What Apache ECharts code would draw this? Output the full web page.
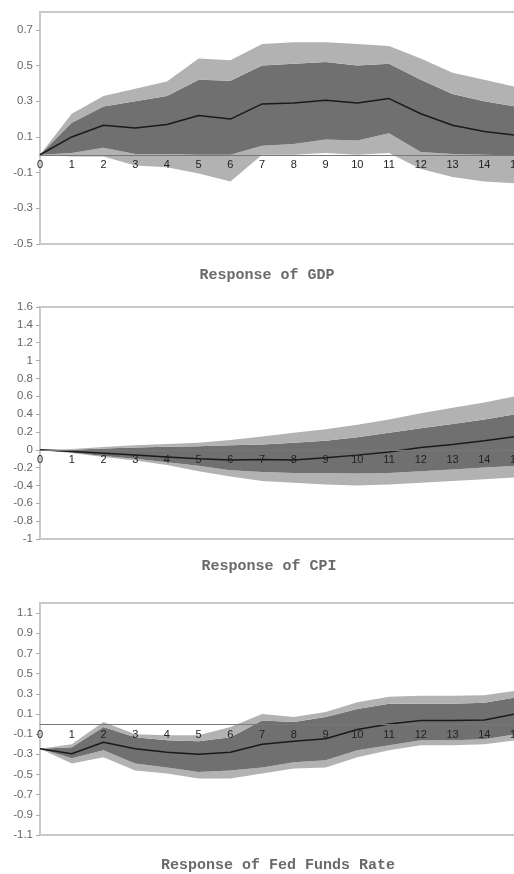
<!DOCTYPE html>
<html><head><meta charset="utf-8">
<script src="https://cdn.jsdelivr.net/npm/echarts@6/dist/echarts.min.js"></script>
<style>html,body{margin:0;padding:0;background:#fff;overflow:hidden}#c{width:514px;height:874px}</style>
</head><body><div id="c"></div>
<script>
const periods = ['0','1','2','3','4','5','6','7','8','9','10','11','12','13','14','15'];

const titles = ['Response of GDP', 'Response of CPI', 'Response of Fed Funds Rate'];

const gdpMedian    = [0, 0.10, 0.165, 0.15, 0.17, 0.22, 0.20, 0.285, 0.29, 0.305, 0.29, 0.315, 0.23, 0.165, 0.13, 0.11];
const gdpOuterHigh = [0, 0.23, 0.33, 0.37, 0.41, 0.54, 0.53, 0.62, 0.63, 0.63, 0.62, 0.61, 0.54, 0.46, 0.42, 0.38];
const gdpInnerHigh = [0, 0.18, 0.27, 0.30, 0.33, 0.42, 0.415, 0.50, 0.51, 0.52, 0.50, 0.51, 0.42, 0.34, 0.30, 0.27];
const gdpInnerLow  = [0, 0.01, 0.04, 0.005, 0.005, 0.0, 0.0, 0.05, 0.06, 0.085, 0.08, 0.12, 0.015, 0.005, 0.0, -0.005];
const gdpOuterLow  = [0, -0.01, -0.01, -0.06, -0.07, -0.105, -0.15, 0.0, 0.0, 0.01, 0.0, 0.01, -0.08, -0.125, -0.15, -0.16];

const cpiMedian    = [0, -0.02, -0.04, -0.06, -0.08, -0.10, -0.115, -0.11, -0.115, -0.09, -0.06, -0.025, 0.025, 0.06, 0.10, 0.15];
const cpiOuterHigh = [0, 0.01, 0.03, 0.05, 0.065, 0.08, 0.11, 0.15, 0.19, 0.23, 0.28, 0.34, 0.41, 0.47, 0.53, 0.60];
const cpiInnerHigh = [0, 0.0, 0.015, 0.025, 0.035, 0.04, 0.05, 0.06, 0.08, 0.10, 0.14, 0.19, 0.24, 0.29, 0.34, 0.40];
const cpiInnerLow  = [0, -0.03, -0.07, -0.10, -0.14, -0.18, -0.23, -0.25, -0.26, -0.26, -0.265, -0.26, -0.24, -0.22, -0.20, -0.18];
const cpiOuterLow  = [0, -0.035, -0.08, -0.12, -0.17, -0.24, -0.30, -0.35, -0.37, -0.39, -0.40, -0.39, -0.37, -0.35, -0.33, -0.31];

const ffrMedian    = [-0.245, -0.295, -0.18, -0.245, -0.28, -0.30, -0.28, -0.20, -0.17, -0.145, -0.055, 0.0, 0.035, 0.035, 0.04, 0.10];
const ffrOuterHigh = [-0.245, -0.20, 0.02, -0.10, -0.11, -0.11, -0.03, 0.10, 0.07, 0.12, 0.215, 0.27, 0.28, 0.28, 0.285, 0.33];
const ffrInnerHigh = [-0.245, -0.23, -0.03, -0.13, -0.16, -0.17, -0.13, 0.035, 0.02, 0.07, 0.15, 0.20, 0.20, 0.20, 0.21, 0.265];
const ffrInnerLow  = [-0.245, -0.34, -0.26, -0.39, -0.43, -0.475, -0.46, -0.43, -0.38, -0.36, -0.26, -0.21, -0.16, -0.16, -0.15, -0.10];
const ffrOuterLow  = [-0.245, -0.39, -0.33, -0.46, -0.49, -0.54, -0.54, -0.49, -0.44, -0.43, -0.33, -0.26, -0.21, -0.21, -0.20, -0.16];

const yMin = [-0.5, -1, -1.1];
const yMax = [0.8, 1.6, 1.2];

const panels = [
  {med: gdpMedian, oh: gdpOuterHigh, ih: gdpInnerHigh, il: gdpInnerLow, ol: gdpOuterLow},
  {med: cpiMedian, oh: cpiOuterHigh, ih: cpiInnerHigh, il: cpiInnerLow, ol: cpiOuterLow},
  {med: ffrMedian, oh: ffrOuterHigh, ih: ffrInnerHigh, il: ffrInnerLow, ol: ffrOuterLow}
];

const LIGHT = '#b2b2b2', DARK = '#707070';
const GRID_H = 232;
const gridTops = [12, 307, 603];
const titleY = [275, 566, 865];
const titleX = [267, 269, 278];

const diff = (a, b) => a.map((v, i) => +(v - b[i]).toFixed(4));

const grids = [], xAxes = [], yAxes = [], series = [], graphics = [];
panels.forEach((p, k) => {
  grids.push({left: 40, top: gridTops[k], width: 476, height: GRID_H, show: true,
    outerBoundsMode: 'none', containLabel: false,
    borderColor: '#c8c8c8', borderWidth: 2, backgroundColor: 'transparent'});
  const zeroOffset = -GRID_H * (0 - yMin[k]) / (yMax[k] - yMin[k]);
  xAxes.push({type: 'category', gridIndex: k, data: periods, boundaryGap: false, z: 10,
    position: 'bottom', offset: zeroOffset,
    axisLine: {show: true, onZero: false, lineStyle: {color: '#777', width: 1}},
    axisTick: {show: false},
    axisLabel: {color: '#222', fontSize: 11, fontFamily: 'Liberation Sans, Arial', margin: 5, interval: 0},
    splitLine: {show: false}});
  yAxes.push({type: 'value', gridIndex: k, min: yMin[k], max: yMax[k], interval: 0.2,
    axisLine: {show: false},
    axisTick: {show: true, length: 4, lineStyle: {color: '#aaa'}},
    axisLabel: {color: '#666', fontSize: 11.5, fontFamily: 'Liberation Sans, Arial', margin: 7,
      showMaxLabel: k === 1 ? true : false},
    splitLine: {show: false}});
  const st = 'band' + k;
  const common = {type: 'line', xAxisIndex: k, yAxisIndex: k, stack: st, stackStrategy: 'all',
    symbol: 'none', lineStyle: {width: 0}, silent: true, z: 2};
  series.push(Object.assign({}, common, {data: p.ol}));
  series.push(Object.assign({}, common, {data: diff(p.il, p.ol), areaStyle: {color: LIGHT, opacity: 1}}));
  series.push(Object.assign({}, common, {data: diff(p.ih, p.il), areaStyle: {color: DARK, opacity: 1}}));
  series.push(Object.assign({}, common, {data: diff(p.oh, p.ih), areaStyle: {color: LIGHT, opacity: 1}}));
  series.push({type: 'line', xAxisIndex: k, yAxisIndex: k, data: p.med, symbol: 'none', z: 5,
    lineStyle: {color: '#1a1a1a', width: 1.5}});
  graphics.push({type: 'text', x: titleX[k], y: titleY[k],
    style: {text: titles[k], fill: '#6a6a6a', font: 'bold 15px "Liberation Mono", monospace',
      textAlign: 'center', textVerticalAlign: 'middle'}});
});

const chart = echarts.init(document.getElementById('c'), null, {renderer: 'canvas'});
chart.setOption({animation: false, backgroundColor: '#fff', grid: grids, xAxis: xAxes, yAxis: yAxes,
  series: series, graphic: graphics});
</script>
</body></html>
